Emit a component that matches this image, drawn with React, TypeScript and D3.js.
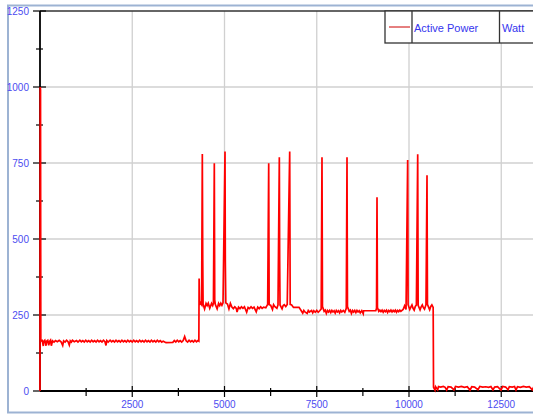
import React from "react";
import * as d3 from "d3";

// active power log, [seconds, watt]
const startupTrace: [number, number][] = [
  [0, 0], [6, 1000], [14, 990], [22, 164],
];

const idleTrace: [number, number][] = [
  [60, 166], [89, 148], [100, 163], [130, 167], [163, 149], [180, 164],
  [210, 167], [236, 150], [260, 163], [285, 167], [307, 149], [340, 165],
  [380, 161], [420, 166], [470, 162], [520, 167], [570, 162], [615, 150],
  [640, 165], [680, 161], [720, 167], [760, 162], [794, 151], [820, 165],
  [850, 161], [880, 167], [930, 162], [990, 166], [1030, 161], [1080, 167],
  [1120, 162], [1160, 166], [1200, 161], [1240, 167], [1280, 162],
  [1320, 166], [1360, 161], [1400, 167], [1440, 162], [1480, 166],
  [1520, 161], [1560, 167], [1600, 162], [1640, 166], [1680, 161],
  [1720, 167], [1760, 162], [1789, 150], [1810, 166], [1850, 161],
  [1900, 167], [1940, 162], [1980, 166], [2020, 161], [2060, 167],
  [2100, 162], [2140, 166], [2180, 161], [2220, 167], [2260, 162],
  [2300, 166], [2340, 161], [2380, 167], [2420, 162], [2460, 166],
  [2500, 161], [2540, 167], [2580, 162], [2620, 166], [2660, 161],
  [2700, 167], [2740, 162], [2780, 166], [2820, 161], [2860, 167],
  [2900, 162], [2940, 166], [2980, 161], [3020, 167], [3060, 162],
  [3100, 166], [3140, 161], [3180, 167], [3220, 162], [3260, 166],
  [3300, 161], [3340, 164], [3415, 159], [3600, 160], [3640, 166],
  [3680, 161], [3720, 167], [3760, 162], [3800, 166], [3840, 161],
  [3880, 166], [3920, 179], [3960, 165], [4000, 161], [4040, 167],
  [4080, 162], [4120, 166], [4160, 161], [4200, 167], [4240, 162],
  [4280, 166], [4305, 164],
];

const loadTrace: [number, number][] = [
  [4312, 370], [4325, 283], [4350, 290], [4380, 284], [4399, 780],
  [4410, 437], [4420, 285], [4460, 270], [4500, 288], [4530, 281],
  [4560, 289], [4600, 272], [4650, 288], [4680, 281], [4700, 288],
  [4724, 749], [4735, 300], [4750, 285], [4800, 270], [4840, 288],
  [4870, 281], [4900, 289], [4930, 282], [4960, 290], [5014, 788],
  [5022, 430], [5035, 290], [5080, 286], [5120, 270], [5160, 288],
  [5200, 276], [5240, 271], [5280, 277], [5320, 272], [5340, 260],
  [5380, 276], [5420, 271], [5460, 277], [5500, 272], [5540, 277],
  [5600, 259], [5640, 275], [5680, 271], [5720, 277], [5760, 272],
  [5800, 276], [5860, 260], [5900, 276], [5940, 271], [5980, 277],
  [6020, 272], [6060, 276], [6120, 274], [6170, 285], [6198, 749],
  [6210, 284], [6250, 282], [6300, 268], [6330, 284], [6360, 278],
  [6420, 272], [6450, 283], [6486, 769], [6495, 430], [6505, 283],
  [6560, 270], [6590, 281], [6620, 284], [6660, 278], [6700, 285],
  [6767, 788], [6780, 285], [6820, 283], [6870, 275], [6950, 275],
  [7020, 275], [7080, 264], [7120, 256], [7150, 265], [7180, 260],
  [7240, 255], [7270, 265], [7300, 260], [7360, 265], [7390, 257],
  [7420, 264], [7460, 259], [7500, 265], [7540, 259], [7580, 264],
  [7620, 270], [7642, 769], [7655, 278], [7700, 262], [7730, 266],
  [7760, 255], [7790, 265], [7820, 260], [7850, 265], [7880, 258],
  [7910, 265], [7940, 260], [7970, 264], [8000, 256], [8030, 265],
  [8060, 260], [8090, 264], [8120, 257], [8150, 265], [8180, 260],
  [8220, 265], [8260, 259], [8300, 272], [8320, 769], [8332, 278],
  [8380, 262], [8410, 266], [8440, 255], [8470, 265], [8500, 260],
  [8530, 265], [8560, 258], [8590, 265], [8620, 260], [8650, 264],
  [8680, 257], [8720, 264], [8760, 254], [8770, 264], [9100, 264],
  [9120, 272], [9133, 637], [9145, 275], [9180, 262], [9210, 266],
  [9240, 261], [9270, 266], [9300, 259], [9330, 265], [9360, 261],
  [9390, 266], [9420, 258], [9450, 265], [9480, 261], [9510, 266],
  [9540, 260], [9570, 265], [9600, 261], [9630, 266], [9660, 259],
  [9690, 265], [9720, 261], [9750, 266], [9780, 262], [9840, 268],
  [9880, 280], [9920, 268], [9964, 760], [9975, 284], [10020, 268],
  [10050, 276], [10080, 283], [10110, 272], [10140, 266], [10170, 278],
  [10200, 283], [10236, 779], [10248, 282], [10300, 267], [10330, 277],
  [10360, 283], [10390, 274], [10420, 269], [10460, 284], [10488, 710],
  [10500, 285], [10530, 276], [10560, 267], [10590, 278], [10620, 283],
  [10655, 275],
];

const offTrace: [number, number][] = [
  [10665, 12], [10704, 3], [10720, 14], [10777, 4], [10800, 15],
  [10860, 13], [10930, 15], [10980, 12], [11021, 3], [11060, 14],
  [11140, 13], [11219, 4], [11260, 15], [11340, 13], [11420, 15],
  [11500, 12], [11580, 14], [11653, 3], [11700, 14], [11780, 13],
  [11870, 4], [11920, 15], [12000, 13], [12080, 14], [12160, 12],
  [12220, 15], [12276, 4], [12320, 13], [12400, 14], [12493, 3],
  [12540, 15], [12620, 13], [12683, 4], [12720, 14], [12800, 13],
  [12860, 15], [12900, 3], [12940, 14], [13020, 12], [13100, 15],
  [13180, 13], [13260, 14], [13340, 4], [13380, 13], [13460, 15],
  [13540, 14], [13620, 13],
];

const xMajorTicks = [2500, 5000, 7500, 10000, 12500];
const xMinorTicks = [1250, 3750, 6250, 8750, 11250, 13750];
const yMajorTicks = [0, 250, 500, 750, 1000, 1250];
const yMinorTicks = [125, 375, 625, 875, 1125];
const legendLabels = ["Active Power", "Watt"];

const W = 533;
const H = 414;
const plotLeft = 40;
const plotTop = 11;
const plotBottom = 391;

const labelBlue = "#4c4cf0";
const gridGray = "#d0d0d0";

export default function App() {
  const trace = [...startupTrace, ...idleTrace, ...loadTrace, ...offTrace];

  const x = d3
    .scaleLinear()
    .domain([0, 14000])
    .range([plotLeft, plotLeft + (14000 / 2500) * 92.25]);
  const y = d3.scaleLinear().domain([0, 1250]).range([plotBottom, plotTop]);

  const line = d3
    .line<[number, number]>()
    .x((d) => x(d[0]))
    .y((d) => y(d[1]));

  const right = x(14000);

  return (
    <div style={{ position: "absolute", left: 0, top: 0 }}>
      <svg
        width={W}
        height={H}
        style={{ display: "block", fontFamily: "Liberation Sans, Arial, sans-serif" }}
      >
        <rect x={0} y={0} width={W} height={H} fill="#fff" />
        {/* outer frame */}
        <rect
          x={8}
          y={5.5}
          width={W + 20}
          height={407}
          fill="none"
          stroke="#9db3d3"
          strokeWidth={2}
        />

        {/* grid */}
        {xMajorTicks.map((t) => (
          <line
            key={"gx" + t}
            x1={x(t)}
            x2={x(t)}
            y1={plotTop}
            y2={plotBottom}
            stroke={gridGray}
            strokeWidth={1.3}
          />
        ))}
        {yMajorTicks
          .filter((t) => t > 0 && t < 1250)
          .map((t) => (
            <line
              key={"gy" + t}
              x1={plotLeft}
              x2={right}
              y1={y(t)}
              y2={y(t)}
              stroke={gridGray}
              strokeWidth={1.3}
            />
          ))}

        {/* plot top border */}
        <line x1={plotLeft} x2={right} y1={y(1250)} y2={y(1250)} stroke="#333" strokeWidth={1.6} />

        {/* y axis */}
        <line x1={plotLeft} x2={plotLeft} y1={plotTop} y2={plotBottom} stroke="#000" strokeWidth={1.8} />
        {yMajorTicks.map((t) => (
          <g key={"yt" + t}>
            <line x1={33} x2={46} y1={y(t)} y2={y(t)} stroke="#000" strokeWidth={1.2} />
            <text
              x={29}
              y={y(t)}
              dy="0.35em"
              textAnchor="end"
              fontSize={10}
              fill={labelBlue}
            >
              {t}
            </text>
          </g>
        ))}
        {yMinorTicks.map((t) => (
          <line key={"ym" + t} x1={36} x2={43} y1={y(t)} y2={y(t)} stroke="#000" strokeWidth={1.2} />
        ))}

        {/* x axis */}
        <line x1={plotLeft} x2={right} y1={plotBottom} y2={plotBottom} stroke="#000" strokeWidth={2} />
        {xMajorTicks.map((t) => (
          <g key={"xt" + t}>
            <line x1={x(t)} x2={x(t)} y1={386} y2={397} stroke="#000" strokeWidth={1.2} />
            <text x={x(t)} y={408} textAnchor="middle" fontSize={10} fill={labelBlue}>
              {t}
            </text>
          </g>
        ))}
        {xMinorTicks.map((t) => (
          <line key={"xm" + t} x1={x(t)} x2={x(t)} y1={388} y2={396} stroke="#000" strokeWidth={1.2} />
        ))}

        {/* data, drawn over the axes */}
        <path
          d={line(trace) ?? ""}
          fill="none"
          stroke="#ff0000"
          strokeWidth={1.7}
          strokeLinejoin="miter"
        />

        {/* legend */}
        <g>
          <rect x={385} y={11} width={170} height={32} fill="#fff" stroke="#333" strokeWidth={1.3} />
          <line x1={412} x2={412} y1={11} y2={43} stroke="#333" strokeWidth={1.3} />
          <line x1={499.5} x2={499.5} y1={11} y2={43} stroke="#333" strokeWidth={1.3} />
          <line x1={389} x2={410} y1={27} y2={27} stroke="#cc0000" strokeWidth={1} />
          <text x={414} y={31.5} fontSize={11} fill="#3535ee">
            {legendLabels[0]}
          </text>
          <text x={502} y={31.5} fontSize={11} fill="#3535ee">
            {legendLabels[1]}
          </text>
        </g>
      </svg>
    </div>
  );
}
